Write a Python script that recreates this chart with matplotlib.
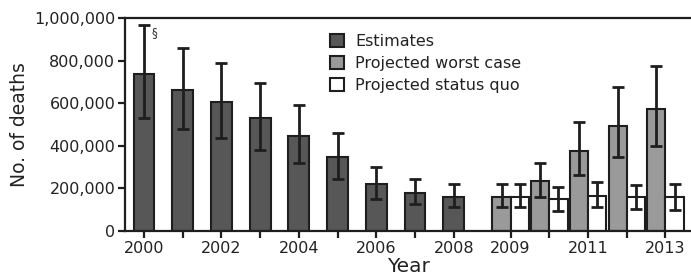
import numpy as np
import matplotlib
matplotlib.use("Agg")
import matplotlib.pyplot as plt
from matplotlib.patches import Patch
from matplotlib.ticker import FuncFormatter

plt.rcParams['font.family'] = ['DejaVu Sans']

# estimates 2000-2008
est_years = [2000, 2001, 2002, 2003, 2004, 2005, 2006, 2007, 2008]
est_val = [735000, 660000, 604000, 530000, 446000, 346000, 219000, 178000, 161000]
est_lo = [530000, 478000, 436000, 380000, 318000, 243000, 150000, 127000, 114000]
est_hi = [967000, 861000, 790000, 693000, 590000, 459000, 302000, 244000, 222000]

# projections 2009-2013
proj_years = [2009, 2010, 2011, 2012, 2013]
worst_val = [161000, 235000, 376000, 494000, 574000]
worst_lo = [114000, 158000, 263000, 346000, 399000]
worst_hi = [222000, 318000, 510000, 675000, 776000]
quo_val = [161000, 149000, 166000, 161000, 160000]
quo_lo = [114000, 95000, 114000, 103000, 99000]
quo_hi = [222000, 205000, 232000, 216000, 221000]

labelled_years = [2000, 2002, 2004, 2006, 2008, 2009, 2011, 2013]

dark = '#575757'
mid = '#9a9a9a'
edge = '#1e1e1e'

fig = plt.figure(figsize=(6.91, 2.79), dpi=100)
ax = fig.add_axes([0.181, 0.172, 0.819, 0.7635])

gap = 0.47
xe = np.array(est_years) - 2000.0
xp = np.array(proj_years) - 2000.0 + gap
w_e = 0.54
w_p = 0.47

ekw = dict(ecolor=edge, elinewidth=2.0, capsize=4, capthick=2.0)

ax.bar(xe, est_val, w_e, color=dark, edgecolor=edge, linewidth=1.5, zorder=2,
       yerr=[np.array(est_val) - est_lo, np.array(est_hi) - est_val],
       error_kw=ekw)
ax.bar(xp - w_p / 2, worst_val, w_p, color=mid, edgecolor=edge, linewidth=1.5, zorder=2,
       yerr=[np.array(worst_val) - worst_lo, np.array(worst_hi) - worst_val],
       error_kw=ekw)
ax.bar(xp + w_p / 2, quo_val, w_p, color='white', edgecolor=edge, linewidth=1.5, zorder=2,
       yerr=[np.array(quo_val) - quo_lo, np.array(quo_hi) - quo_val],
       error_kw=ekw)

ax.text(xe[0] + 0.2, est_hi[0] - 5000, '\u00a7', fontsize=8.5, color='#333333',
        va='top', ha='left')

# ticks at every year, labels only on some
all_years = est_years + proj_years
tick_pos = list(xe) + list(xp)
ax.set_xticks(tick_pos)
ax.set_xticklabels([str(y) if y in labelled_years else '' for y in all_years])
ax.set_xlim(-0.49, 14.13)

ax.set_ylim(0, 1000000)
ax.set_yticks(np.arange(0, 1000001, 200000))
ax.yaxis.set_major_formatter(FuncFormatter(lambda v, p: '{:,.0f}'.format(v)))

for s in ['left', 'bottom', 'top']:
    ax.spines[s].set_linewidth(1.6)
    ax.spines[s].set_color(edge)
ax.spines['right'].set_visible(False)
ax.tick_params(direction='out', length=5, width=1.6, color=edge,
               labelsize=11.5, labelcolor='#222222', pad=2)

ax.set_ylabel('No. of deaths', fontsize=13.5, color='#222222', labelpad=4)
ax.set_xlabel('Year', fontsize=14.5, color='#222222', labelpad=1)

handles = [Patch(facecolor=dark, edgecolor=edge, linewidth=1.5, label='Estimates'),
           Patch(facecolor=mid, edgecolor=edge, linewidth=1.5, label='Projected worst case'),
           Patch(facecolor='white', edgecolor=edge, linewidth=1.5, label='Projected status quo')]
ax.legend(handles=handles, loc='upper left', bbox_to_anchor=(0.362, 0.925),
          frameon=False, fontsize=11.5, handlelength=0.9, handleheight=0.9,
          handletextpad=0.7, labelspacing=0.42, borderpad=0, borderaxespad=0,
          labelcolor='#222222')

fig.savefig('out.png', dpi=100)
